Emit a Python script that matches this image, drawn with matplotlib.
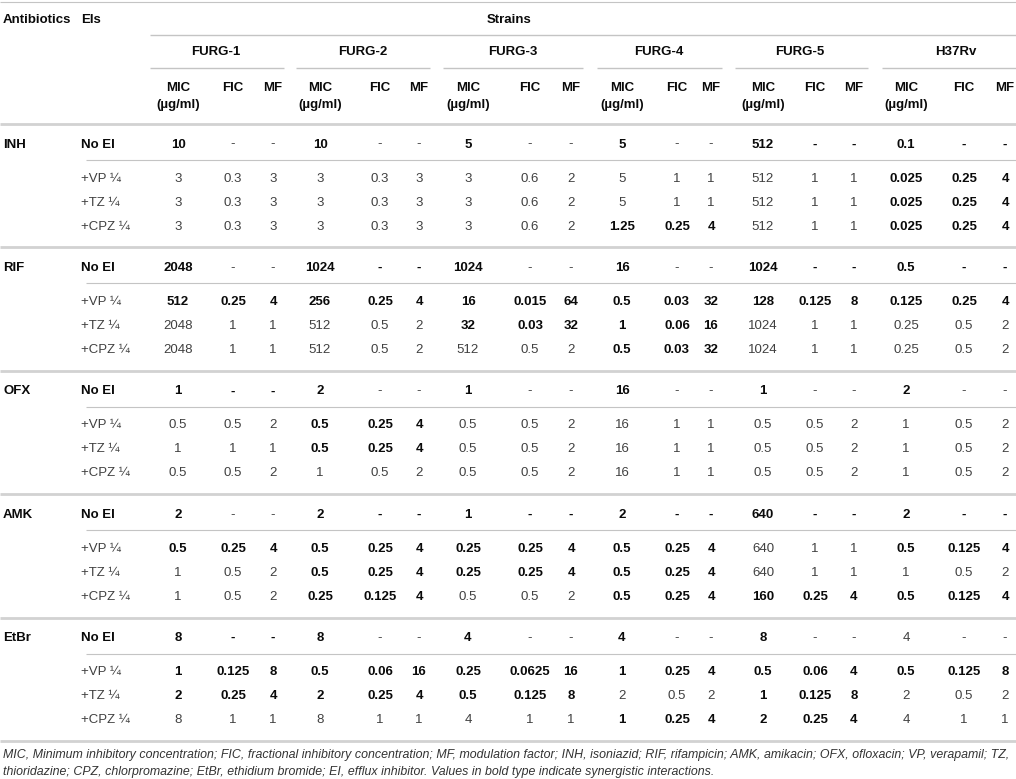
import matplotlib
matplotlib.use("Agg")
import matplotlib.pyplot as plt

# ---- table content (a leading "*" means the cell is printed in bold) ----
strains = ["FURG-1", "FURG-2", "FURG-3", "FURG-4", "FURG-5", "H37Rv"]
antibiotics = ["INH", "RIF", "OFX", "AMK", "EtBr"]
inhibitors = ["No EI", "+VP ¼", "+TZ ¼", "+CPZ ¼"]

inh = [
    ["*10", "-", "-", "*10", "-", "-", "*5", "-", "-", "*5", "-", "-", "*512", "*-", "*-", "*0.1", "*-", "*-"],
    ["3", "0.3", "3", "3", "0.3", "3", "3", "0.6", "2", "5", "1", "1", "512", "1", "1", "*0.025", "*0.25", "*4"],
    ["3", "0.3", "3", "3", "0.3", "3", "3", "0.6", "2", "5", "1", "1", "512", "1", "1", "*0.025", "*0.25", "*4"],
    ["3", "0.3", "3", "3", "0.3", "3", "3", "0.6", "2", "*1.25", "*0.25", "*4", "512", "1", "1", "*0.025", "*0.25", "*4"],
]
rif = [
    ["*2048", "-", "-", "*1024", "*-", "*-", "*1024", "-", "-", "*16", "-", "-", "*1024", "*-", "*-", "*0.5", "*-", "*-"],
    ["*512", "*0.25", "*4", "*256", "*0.25", "*4", "*16", "*0.015", "*64", "*0.5", "*0.03", "*32", "*128", "*0.125", "*8", "*0.125", "*0.25", "*4"],
    ["2048", "1", "1", "512", "0.5", "2", "*32", "*0.03", "*32", "*1", "*0.06", "*16", "1024", "1", "1", "0.25", "0.5", "2"],
    ["2048", "1", "1", "512", "0.5", "2", "512", "0.5", "2", "*0.5", "*0.03", "*32", "1024", "1", "1", "0.25", "0.5", "2"],
]
ofx = [
    ["*1", "*-", "*-", "*2", "-", "-", "*1", "-", "-", "*16", "-", "-", "*1", "-", "-", "*2", "-", "-"],
    ["0.5", "0.5", "2", "*0.5", "*0.25", "*4", "0.5", "0.5", "2", "16", "1", "1", "0.5", "0.5", "2", "1", "0.5", "2"],
    ["1", "1", "1", "*0.5", "*0.25", "*4", "0.5", "0.5", "2", "16", "1", "1", "0.5", "0.5", "2", "1", "0.5", "2"],
    ["0.5", "0.5", "2", "1", "0.5", "2", "0.5", "0.5", "2", "16", "1", "1", "0.5", "0.5", "2", "1", "0.5", "2"],
]
amk = [
    ["*2", "-", "-", "*2", "*-", "*-", "*1", "*-", "*-", "*2", "*-", "*-", "*640", "*-", "*-", "*2", "*-", "*-"],
    ["*0.5", "*0.25", "*4", "*0.5", "*0.25", "*4", "*0.25", "*0.25", "*4", "*0.5", "*0.25", "*4", "640", "1", "1", "*0.5", "*0.125", "*4"],
    ["1", "0.5", "2", "*0.5", "*0.25", "*4", "*0.25", "*0.25", "*4", "*0.5", "*0.25", "*4", "640", "1", "1", "1", "0.5", "2"],
    ["1", "0.5", "2", "*0.25", "*0.125", "*4", "0.5", "0.5", "2", "*0.5", "*0.25", "*4", "*160", "*0.25", "*4", "*0.5", "*0.125", "*4"],
]
etbr = [
    ["*8", "*-", "*-", "*8", "-", "-", "*4", "-", "-", "*4", "-", "-", "*8", "-", "-", "4", "-", "-"],
    ["*1", "*0.125", "*8", "*0.5", "*0.06", "*16", "*0.25", "*0.0625", "*16", "*1", "*0.25", "*4", "*0.5", "*0.06", "*4", "*0.5", "*0.125", "*8"],
    ["*2", "*0.25", "*4", "*2", "*0.25", "*4", "*0.5", "*0.125", "*8", "2", "0.5", "2", "*1", "*0.125", "*8", "2", "0.5", "2"],
    ["8", "1", "1", "8", "1", "1", "4", "1", "1", "*1", "*0.25", "*4", "*2", "*0.25", "*4", "4", "1", "1"],
]
blocks = [inh, rif, ofx, amk, etbr]

footnote = [
    "MIC, Minimum inhibitory concentration; FIC, fractional inhibitory concentration; MF, modulation factor; INH, isoniazid; RIF, rifampicin; AMK, amikacin; OFX, ofloxacin; VP, verapamil; TZ,",
    "thioridazine; CPZ, chlorpromazine; EtBr, ethidium bromide; EI, efflux inhibitor. Values in bold type indicate synergistic interactions.",
]

# ---- layout (pixels, origin top-left) ----
W, H = 1016, 779
mic_x = [178, 320, 468, 622, 763, 906]
fic_x = [233, 380, 530, 677, 815, 964]
mf_x = [273, 419, 571, 711, 854, 1005]
strain_x = [216, 363, 513, 659, 800, 956]
seg = [(150, 284), (296, 430), (443, 583), (597, 722), (735, 868), (882, 1016)]

plt.rcParams["font.family"] = ["Liberation Sans", "DejaVu Sans"]
FS = 9.5
DY = 1.5  # text sits a little lower than its nominal row centre
DARK = "#0a0a0a"
LIGHT = "#404040"
THICK = "#d2d2d2"
THIN = "#c4c4c4"

fig = plt.figure(figsize=(W / 100, H / 100), dpi=100)
ax = fig.add_axes([0, 0, 1, 1])
ax.set_xlim(0, W)
ax.set_ylim(H, 0)
ax.axis("off")


def hline(y, x0, x1, color, lw):
    ax.plot([x0, x1], [y, y], color=color, lw=lw, solid_capstyle="butt")


def cell(x, y, s, ha="center", bold=None):
    if bold is None:
        bold = s.startswith("*")
        s = s.lstrip("*")
    ax.text(x, y + DY, s, ha=ha, va="center", fontsize=FS,
            fontweight="bold" if bold else "normal",
            color=DARK if bold else LIGHT)


# header
hline(2, 0, W, THIN, 0.8)
cell(3, 18, "Antibiotics", ha="left", bold=True)
cell(81, 18, "EIs", ha="left", bold=True)
cell(509, 18, "Strains", bold=True)
hline(35, 150, W, THIN, 1.0)
for i, name in enumerate(strains):
    cell(strain_x[i], 50, name, bold=True)
    hline(68, seg[i][0], seg[i][1], THIN, 1.0)
    cell(mic_x[i], 86, "MIC", bold=True)
    cell(mic_x[i], 103, "(\u00b5g/ml)", bold=True)
    cell(fic_x[i], 86, "FIC", bold=True)
    cell(mf_x[i], 86, "MF", bold=True)

# body
top = 124
step = 123.4
for g, (abx, rows) in enumerate(zip(antibiotics, blocks)):
    y0 = top + g * step
    hline(y0, 0, W, THICK, 2.0)
    row_y = [y0 + 19, y0 + 53, y0 + 77, y0 + 101]
    hline(y0 + 36, 86, W, THIN, 0.8)
    cell(3, row_y[0], abx, ha="left", bold=True)
    for r, vals in enumerate(rows):
        cell(81, row_y[r], inhibitors[r], ha="left", bold=(r == 0))
        for i in range(len(strains)):
            cell(mic_x[i], row_y[r], vals[3 * i])
            cell(fic_x[i], row_y[r], vals[3 * i + 1])
            cell(mf_x[i], row_y[r], vals[3 * i + 2])
hline(top + 5 * step, 0, W, THICK, 2.0)

# footnote, sized so that the first line spans the table width
fig.canvas.draw()
rend = fig.canvas.get_renderer()
t1 = ax.text(3, 755, footnote[0], ha="left", va="center", fontsize=7.5,
             style="italic", color="#333333")
wpx = t1.get_window_extent(rend).width
fs = 7.5 * 995 / wpx
t1.set_fontsize(fs)
ax.text(3, 772, footnote[1], ha="left", va="center", fontsize=fs,
        style="italic", color="#333333")

fig.savefig("out.png", dpi=100)
